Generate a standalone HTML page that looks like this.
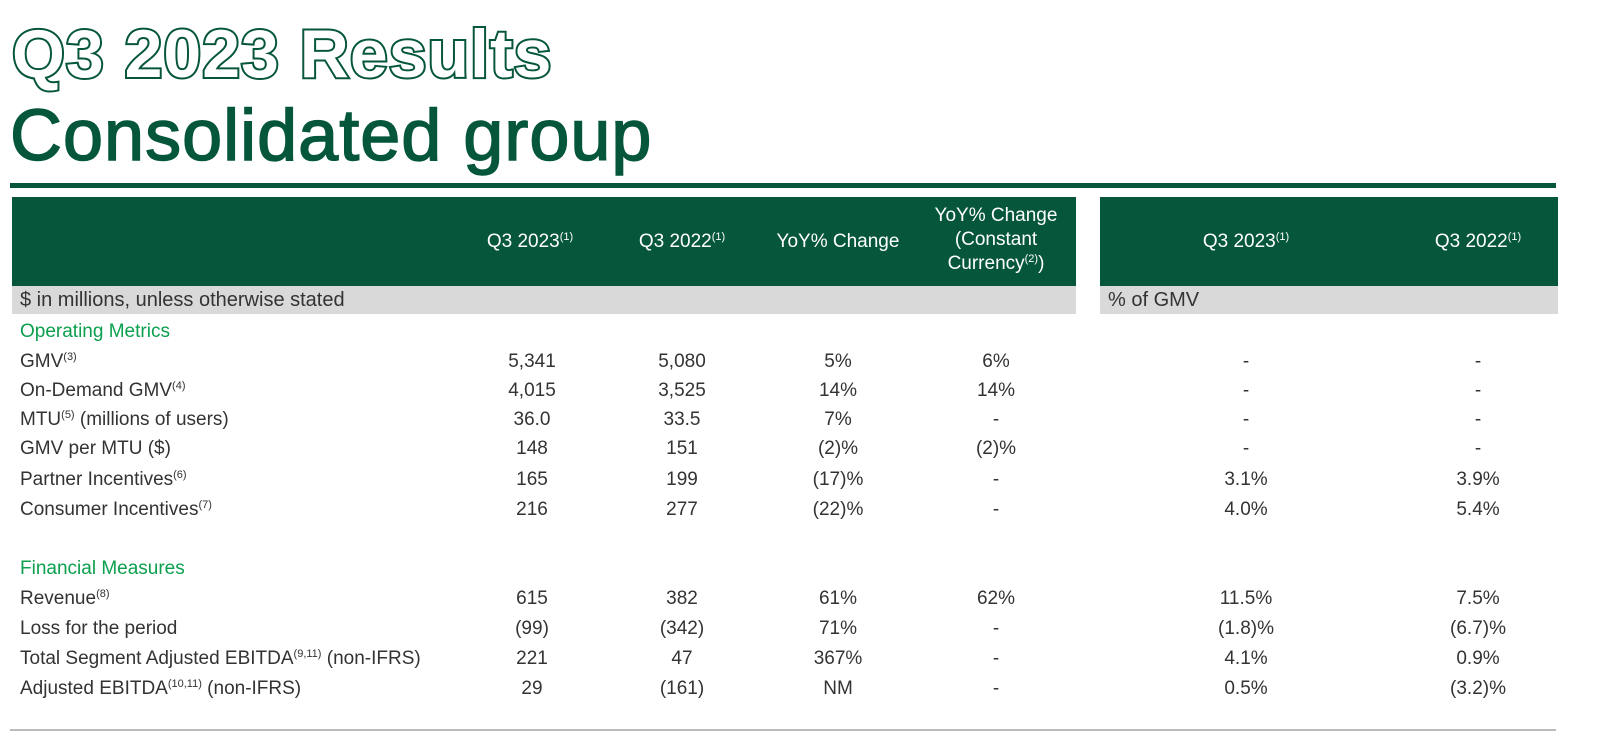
<!DOCTYPE html>
<html><head><meta charset="utf-8"><style>
body{margin:0;width:1600px;height:754px;background:#fff;position:relative;overflow:hidden;font-family:"Liberation Sans",sans-serif;color:#333}
.a{position:absolute;white-space:nowrap}
.t1{left:12px;top:14px;font-size:68px;font-weight:bold;color:#fff;-webkit-text-stroke:4px #05563a;paint-order:stroke fill;letter-spacing:1px;line-height:80px}
.t2{left:10px;top:96px;font-size:72px;color:#05563a;-webkit-text-stroke:1.5px #05563a;letter-spacing:1px;line-height:80px}
.hdr{background:#05563a;color:#fff}
.band{background:#d9d9d9;font-size:20px;color:#333;line-height:28px}
.c{font-size:19px;transform:translateX(-50%);text-align:center;line-height:30px}
.l{font-size:19px;left:20px;line-height:30px}
.g{color:#0ca04e;font-size:19px;left:20px;line-height:30px}
.h{color:#fff;font-size:19px;transform:translateX(-50%);text-align:center;line-height:24px}
sup{font-size:11px;vertical-align:7px;line-height:0}
</style></head><body>
<div class="a t1">Q3 2023 Results</div>
<div class="a t2">Consolidated group</div>
<div class="a" style="left:10px;top:183px;width:1546px;height:5px;background:#05563a"></div>
<div class="a hdr" style="left:12px;top:197px;width:1064px;height:89px"></div>
<div class="a hdr" style="left:1100px;top:197px;width:458px;height:89px"></div>
<div class="a band" style="left:12px;top:286px;width:1064px;height:28px;padding-left:8px;box-sizing:border-box">$ in millions, unless otherwise stated</div>
<div class="a band" style="left:1100px;top:286px;width:458px;height:28px;padding-left:8px;box-sizing:border-box">% of GMV</div>
<div class="a h" style="left:530px;top:230px">Q3 2023<sup>(1)</sup></div>
<div class="a h" style="left:682px;top:230px">Q3 2022<sup>(1)</sup></div>
<div class="a h" style="left:838px;top:230px">YoY% Change</div>
<div class="a h" style="left:996px;top:204px">YoY% Change<br>(Constant<br>Currency<sup>(2)</sup>)</div>
<div class="a h" style="left:1246px;top:230px">Q3 2023<sup>(1)</sup></div>
<div class="a h" style="left:1478px;top:230px">Q3 2022<sup>(1)</sup></div>
<div class="a g" style="top:317px">Operating Metrics</div>
<div class="a g" style="top:554px">Financial Measures</div>
<div id="rows"></div>
<div class="a" style="left:10px;top:729px;width:1546px;height:2px;background:#bbb"></div>
<script>
const labels=["GMV<sup>(3)</sup>","On-Demand GMV<sup>(4)</sup>","MTU<sup>(5)</sup> (millions of users)","GMV per MTU ($)","Partner Incentives<sup>(6)</sup>","Consumer Incentives<sup>(7)</sup>","Revenue<sup>(8)</sup>","Loss for the period","Total Segment Adjusted EBITDA<sup>(9,11)</sup> (non-IFRS)","Adjusted EBITDA<sup>(10,11)</sup> (non-IFRS)"];
const q23=["5,341","4,015","36.0","148","165","216","615","(99)","221","29"];
const q22=["5,080","3,525","33.5","151","199","277","382","(342)","47","(161)"];
const yoy=["5%","14%","7%","(2)%","(17)%","(22)%","61%","71%","367%","NM"];
const cc=["6%","14%","-","(2)%","-","-","62%","-","-","-"];
const p23=["-","-","-","-","3.1%","4.0%","11.5%","(1.8)%","4.1%","0.5%"];
const p22=["-","-","-","-","3.9%","5.4%","7.5%","(6.7)%","0.9%","(3.2)%"];
const tops=[347,376,405,434,465,495,584,614,644,674];
const cols=[[q23,532,'q3-2023'],[q22,682,'q3-2022'],[yoy,838,'yoy'],[cc,996,'yoy-cc'],[p23,1246,'pct-q3-2023'],[p22,1478,'pct-q3-2022']];
const root=document.getElementById('rows');
labels.forEach((lb,i)=>{
 const d=document.createElement('div');d.className='a l';d.style.top=tops[i]+'px';d.innerHTML=lb;
 
 
 root.appendChild(d);
 cols.forEach(([arr,x,n])=>{
  const e=document.createElement('div');e.className='a c';e.style.top=tops[i]+'px';e.style.left=x+'px';e.textContent=arr[i];
  
  
  root.appendChild(e);
 });
});
</script>
</body></html>
